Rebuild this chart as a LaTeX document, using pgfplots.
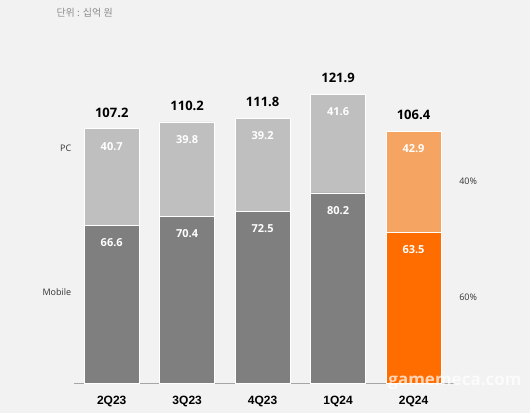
\documentclass[border=0pt]{standalone}
\usepackage{pgfplots}
\pgfplotsset{compat=1.18}
\usepackage{fontspec}
\setmainfont{Open Sans}
\newfontfamily\kr{Noto Sans CJK KR}
\newfontfamily\arial{Liberation Sans}
\definecolor{bg}{HTML}{F2F2F2}
\definecolor{mob}{HTML}{7F7F7F}
\definecolor{pc}{HTML}{BFBFBF}
\definecolor{mobo}{HTML}{FF6D00}
\definecolor{pco}{HTML}{F6A461}
\definecolor{axgray}{HTML}{A6A6A6}
\definecolor{txtgray}{HTML}{8C8C8C}
\pgfplotsset{base/.style={
  at={(74pt,30pt)}, anchor=south west, scale only axis,
  width=381pt, height=355.4pt,
  xmin=-0.5, xmax=4.55, ymin=0, ymax=150, clip=false,
}}
\tikzset{tot/.style={font=\fontsize{13}{15}\selectfont\bfseries, yshift=16pt},
val/.style={font=\fontsize{11}{13}\selectfont\bfseries, text=white, anchor=center},
side/.style={font=\fontsize{9}{11}\selectfont, text=black!80}}
\begin{document}
\begin{tikzpicture}
\path[use as bounding box, fill=bg] (0,0) rectangle (530pt,413pt);
\node[anchor=west, text=txtgray, font=\kr\fontsize{10}{12}\selectfont] at (53pt,400pt) {단위 : 십억 원};
\begin{axis}[base, ybar stacked, bar width=55pt,
  axis x line*=bottom, axis y line=none,
  x axis line style={draw=axgray, line width=1pt, -},
  xtick={0,1,2,3,4}, xticklabels={2Q23,3Q23,4Q23,1Q24,2Q24},
  major tick length=0pt, ytick=\empty,
  xticklabel style={font=\arial\bfseries\fontsize{12}{14}\selectfont, yshift=-10pt},
]
\addplot[fill=mob, draw=white, line width=0.8pt] coordinates {(0,66.6) (1,70.4) (2,72.5) (3,80.2)};
\addplot[fill=pc, draw=white, line width=0.8pt] coordinates {(0,40.7) (1,39.8) (2,39.2) (3,41.6)};
\end{axis}
\begin{axis}[base, ybar stacked, bar width=55pt, hide axis]
\addplot[fill=mobo, draw=white, line width=0.8pt] coordinates {(4,63.5)};
\addplot[fill=pco, draw=white, line width=0.8pt] coordinates {(4,42.9)};
\end{axis}
\begin{axis}[base, hide axis]
\node[val] at (axis cs:0,59.2) {66.6};
\node[val] at (axis cs:1,63.0) {70.4};
\node[val] at (axis cs:2,65.1) {72.5};
\node[val] at (axis cs:3,72.8) {80.2};
\node[val] at (axis cs:4,56.1) {63.5};
\node[val] at (axis cs:0,99.8) {40.7};
\node[val] at (axis cs:1,102.8) {39.8};
\node[val] at (axis cs:2,104.3) {39.2};
\node[val] at (axis cs:3,114.4) {41.6};
\node[val] at (axis cs:4,99.0) {42.9};
\node[tot] at (axis cs:0,107.2) {107.2};
\node[tot] at (axis cs:1,110.2) {110.2};
\node[tot] at (axis cs:2,111.8) {111.8};
\node[tot] at (axis cs:3,121.9) {121.9};
\node[tot] at (axis cs:4,106.4) {106.4};
\node[side, anchor=east] at (axis cs:-0.49,99.2) {PC};
\node[side, anchor=east] at (axis cs:-0.49,38.4) {Mobile};
\node[side, anchor=west] at (axis cs:4.56,85.2) {40\%};
\node[side, anchor=west] at (axis cs:4.56,36.3) {60\%};
\end{axis}
\node[text=white, opacity=0.7, font=\bfseries\fontsize{17}{19}\selectfont] at (455pt,30pt) {gamemeca.com};
\end{tikzpicture}
\end{document}
